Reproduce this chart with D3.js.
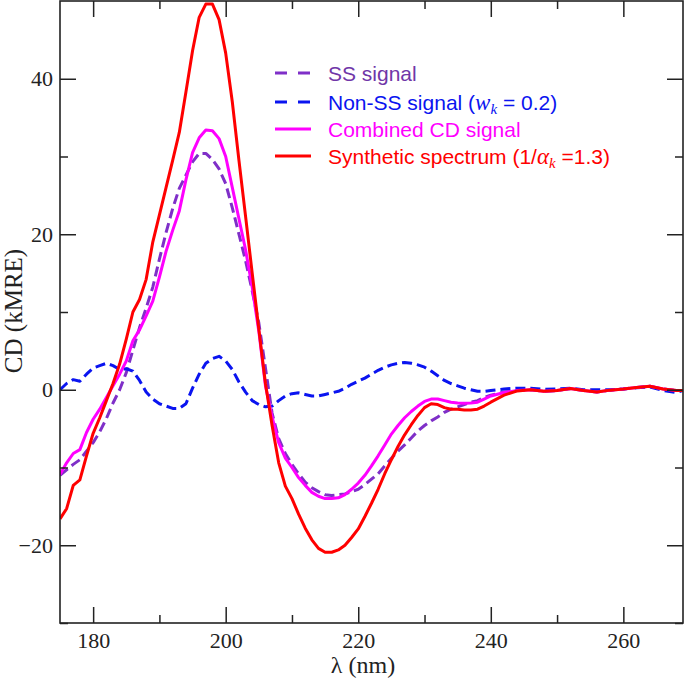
<!DOCTYPE html>
<html><head><meta charset="utf-8">
<script src="https://cdn.jsdelivr.net/npm/d3@7"></script>
<style>html,body{margin:0;padding:0;background:#fff;}svg{display:block;}</style>
</head><body>
<svg id="chart" width="685" height="681"></svg>
<script>
const wavelength = [175,176,177,178,179,180,181,182,183,184,185,186,187,188,189,190,191,192,193,194,195,196,197,198,199,200,201,202,203,204,205,206,207,208,209,210,211,212,213,214,215,216,217,218,219,220,221,222,223,224,225,226,227,228,229,230,231,232,233,234,235,236,237,238,239,240,242,244,246,248,250,252,254,256,258,260,262,264,266,268,269];
const ssSignal = [-11.0,-10.3,-9.6,-9.0,-7.9,-6.8,-5.4,-3.7,-1.7,0.0,2.2,5.1,8.0,10.5,13.2,16.8,20.2,23.3,25.9,27.6,29.3,30.4,30.4,29.6,28.4,26.5,23.4,20.0,16.6,12.7,8.6,2.8,-3.0,-6.3,-8.2,-9.6,-10.8,-11.9,-12.6,-13.1,-13.5,-13.6,-13.5,-13.4,-13.1,-12.8,-12.2,-11.5,-10.8,-9.8,-8.8,-7.9,-7.1,-6.2,-5.3,-4.6,-4.0,-3.5,-2.9,-2.5,-2.2,-1.9,-1.6,-1.4,-1.0,-0.7,-0.3,-0.1,0.0,-0.2,-0.1,0.15,-0.1,-0.3,-0.05,0.1,0.3,0.45,0.1,-0.1,-0.1];
const nonSsSignal = [0.0,0.8,1.3,1.1,2.0,2.8,3.1,3.4,3.1,2.6,2.7,2.4,1.2,-0.3,-1.2,-1.8,-2.1,-2.4,-2.4,-1.8,0.2,2.0,3.4,4.0,4.3,3.7,2.6,1.0,-0.3,-1.4,-1.9,-2.2,-2.1,-1.4,-0.8,-0.5,-0.4,-0.6,-0.8,-0.8,-0.6,-0.4,-0.2,0.2,0.7,1.1,1.5,2.0,2.5,2.9,3.2,3.4,3.5,3.4,3.2,2.9,2.4,1.8,1.2,0.8,0.5,0.2,0.0,-0.2,-0.2,-0.1,0.1,0.2,0.2,0.05,0.1,0.2,0.0,0.0,0.0,0.1,0.25,0.35,-0.1,-0.35,-0.1];
const combinedSignal = [-10.9,-9.4,-8.2,-7.7,-5.5,-3.8,-2.5,-1.0,0.5,2.0,3.7,6.3,7.7,9.5,11.4,14.5,17.8,20.5,23.0,27.0,30.5,32.4,33.4,33.3,32.3,30.0,26.0,22.0,18.0,13.2,7.5,0.5,-3.5,-6.8,-8.8,-10.0,-11.3,-12.3,-13.2,-13.7,-14.0,-14.0,-13.9,-13.5,-12.8,-12.0,-11.0,-9.8,-8.5,-7.1,-5.7,-4.6,-3.6,-2.8,-2.1,-1.5,-1.2,-1.2,-1.4,-1.6,-1.7,-1.75,-1.7,-1.6,-1.2,-0.8,-0.35,-0.1,0.0,-0.2,-0.1,0.15,-0.1,-0.3,-0.05,0.1,0.3,0.45,0.1,-0.1,-0.1];
const syntheticSpectrum = [-16.6,-15.3,-12.3,-11.6,-8.5,-5.6,-3.6,-1.4,0.8,3.3,6.5,10.0,11.6,14.2,19.0,22.5,26.0,29.5,33.1,38.3,43.6,47.9,49.6,49.6,47.6,43.3,37.0,29.5,22.3,15.0,7.8,0.8,-4.6,-9.4,-12.4,-14.0,-16.0,-17.8,-19.3,-20.4,-20.9,-20.9,-20.6,-20.0,-19.0,-17.9,-16.3,-14.6,-12.8,-10.8,-9.0,-7.3,-5.8,-4.5,-3.3,-2.3,-1.8,-1.9,-2.3,-2.5,-2.5,-2.6,-2.6,-2.5,-2.1,-1.6,-0.7,-0.15,0.0,-0.2,-0.1,0.15,-0.1,-0.3,-0.05,0.1,0.3,0.45,0.1,-0.1,-0.1];

const xMajorTicks = [180,200,220,240,260];
const xMinorTicks = [190,210,230,250];
const yMajorTicks = [-20,0,20,40];
const yMinorTicks = [-30,-10,10,30];

const svg = d3.select("#chart");
const L = 60, R = 683, T = 1, B = 623;
const x = d3.scaleLinear().domain([175,269]).range([L,R]);
const y = d3.scaleLinear().domain([-30,50]).range([B,T]);

svg.append("defs").append("clipPath").attr("id","clip")
  .append("rect").attr("x",L).attr("y",T).attr("width",R-L).attr("height",B-T);

const series = [
  {name:"ss", values: ssSignal, color:"#7f2fc8", dash:"10,5"},
  {name:"nonss", values: nonSsSignal, color:"#0a14f0", dash:"10,5"},
  {name:"combined", values: combinedSignal, color:"#ff00ff", dash:null},
  {name:"synthetic", values: syntheticSpectrum, color:"#ff0000", dash:null}
];
const line = d3.line().x(d=>x(d[0])).y(d=>y(d[1]));
const g = svg.append("g").attr("clip-path","url(#clip)");
series.forEach(s=>{
  const pts = wavelength.map((w,i)=>[w,s.values[i]]);
  g.append("path").datum(pts).attr("d",line)
    .attr("fill","none").attr("stroke",s.color).attr("stroke-width",3)
    .attr("stroke-linejoin","round")
    .attr("stroke-dasharray",s.dash);
});

// frame
svg.append("rect").attr("x",L).attr("y",T).attr("width",R-L).attr("height",B-T)
  .attr("fill","none").attr("stroke","#222").attr("stroke-width",1.6);

const fontSerif = "'Liberation Serif','DejaVu Serif',serif";
function ax(axisFn, scale, ticks, size, tr, labels){
  const a = axisFn(scale).tickValues(ticks).tickSizeInner(-size).tickSizeOuter(0);
  if(!labels) a.tickFormat("");
  const sel = svg.append("g").attr("transform",tr).call(a);
  sel.select(".domain").remove();
  sel.selectAll("line").attr("stroke","#222").attr("stroke-width",1.5);
  sel.selectAll("text").attr("font-family",fontSerif).attr("font-size",22).attr("fill","#222");
  return sel;
}
const xb = ax(d3.axisBottom, x, xMajorTicks, 16, `translate(0,${B})`, true);
xb.selectAll("text").attr("y",9);
ax(d3.axisBottom, x, xMinorTicks, 8, `translate(0,${B})`, false);
ax(d3.axisTop, x, xMajorTicks, 16, `translate(0,${T})`, false);
ax(d3.axisTop, x, xMinorTicks, 8, `translate(0,${T})`, false);
const yl = ax(d3.axisLeft, y, yMajorTicks, 16, `translate(${L},0)`, true);
yl.selectAll("text").attr("x",-7);
ax(d3.axisLeft, y, yMinorTicks, 8, `translate(${L},0)`, false);
ax(d3.axisRight, y, yMajorTicks, 16, `translate(${R},0)`, false);
ax(d3.axisRight, y, yMinorTicks, 8, `translate(${R},0)`, false);

// axis titles
svg.append("text").attr("x",363).attr("y",673).attr("text-anchor","middle")
  .attr("font-family",fontSerif).attr("font-size",24).attr("fill","#222").text("λ (nm)");
svg.append("text").attr("transform","translate(22,311) rotate(-90)").attr("text-anchor","middle")
  .attr("font-family",fontSerif).attr("font-size",25).attr("fill","#222").text("CD (kMRE)");

// legend
const fontSans = "'Liberation Sans',Arial,sans-serif";
const legendItems = [
  {label:"SS signal", color:"#7f2fc8", text:"#7036a8", dash:"12,11"},
  {label:"Non-SS signal", color:"#0a14f0", text:"#0a14f0", dash:"12,11", math:"w"},
  {label:"Combined CD signal", color:"#ff00ff", text:"#ff00ff", dash:null},
  {label:"Synthetic spectrum", color:"#ff0000", text:"#ff0000", dash:null, math:"a"}
];
const legY = [73,102,129,156];
legendItems.forEach((it,i)=>{
  const yy = legY[i];
  svg.append("line").attr("x1",275).attr("x2",311).attr("y1",yy).attr("y2",yy)
    .attr("stroke",it.color).attr("stroke-width",3).attr("stroke-dasharray",it.dash);
  const t = svg.append("text").attr("x",328).attr("y",yy+7.5)
    .attr("font-family",fontSans).attr("font-size",21).attr("fill",it.text);
  t.append("tspan").text(it.label);
  if(it.math==="w"){
    t.append("tspan").text(" (");
    t.append("tspan").attr("font-family",fontSerif).attr("font-style","italic").attr("font-size",23).text("w");
    t.append("tspan").attr("font-family",fontSerif).attr("font-style","italic").attr("font-size",15).attr("dy",4).text("k");
    t.append("tspan").attr("dy",-4).text(" = 0.2)");
  } else if(it.math==="a"){
    t.append("tspan").text(" (1/");
    t.append("tspan").attr("font-family",fontSerif).attr("font-style","italic").attr("font-size",23).text("α");
    t.append("tspan").attr("font-family",fontSerif).attr("font-style","italic").attr("font-size",15).attr("dy",4).text("k");
    t.append("tspan").attr("dy",-4).text(" =1.3)");
  }
});
</script>
</body></html>
